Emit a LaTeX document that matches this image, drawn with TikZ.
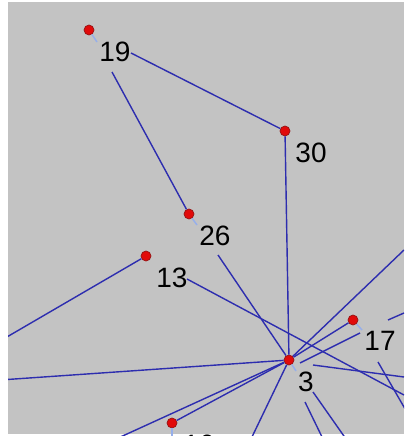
\documentclass[tikz,border=0pt]{standalone}
\usepackage{fontspec}
\setmainfont{Liberation Sans}
\definecolor{bggray}{RGB}{195,195,195}
\definecolor{edgeblue}{RGB}{45,45,175}
\definecolor{tickblue}{RGB}{150,175,235}
\definecolor{dotred}{RGB}{225,10,10}
\definecolor{dotedge}{RGB}{150,20,20}
\begin{document}
\begin{tikzpicture}[x=1pt,y=-1pt,
  vertex/.style={circle,fill=dotred,draw=dotedge,line width=0.7pt,minimum size=10pt,inner sep=0pt},
  lbl/.style={inner sep=0pt,font=\fontsize{28}{28}\selectfont},
  edge/.style={draw=edgeblue,line width=1.4pt},
  leader/.style={draw=tickblue,line width=1.5pt}]
\useasboundingbox (0,0) rectangle (404,436);
\fill[white] (0,0) rectangle (404,436);
\fill[bggray] (8,2) rectangle (404,433.5);
\begin{scope}
\clip (8,0) rectangle (404,436);
% vertices
\node[vertex] (n19) at (89,30) {};
\node[vertex] (n30) at (285,131) {};
\node[vertex] (n26) at (189,214) {};
\node[vertex] (n13) at (146,256) {};
\node[vertex] (n17) at (353,320) {};
\node[vertex] (n3)  at (289,360) {};
\node[vertex] (n16) at (172,423) {};
% labels
\node[lbl] (l19) at (115,52) {19};
\node[lbl] (l30) at (311,153) {30};
\node[lbl] (l26) at (215,236) {26};
\node[lbl] (l13) at (172,278) {13};
\node[lbl] (l17) at (380,341) {17};
\node[lbl] (l3)  at (306,382) {3};
\node[lbl] (l16) at (199,445) {16};
% connector end points
\coordinate (e19a) at (131,53);
\coordinate (e19b) at (112,72);
\coordinate (w13)  at (0,341);
\coordinate (e13)  at (187,279);
\coordinate (x13)  at (404,395);
\coordinate (e26)  at (218,255);
\coordinate (ne3)  at (404,250);
\coordinate (e17a) at (360,333);
\coordinate (e3a)  at (300,363);
\coordinate (e3b)  at (313,365);
\coordinate (x3)   at (404,377);
\coordinate (e17b) at (378,362);
\coordinate (s17)  at (408,414);
\coordinate (e17c) at (388,320);
\coordinate (x17)  at (404,313);
\coordinate (w3)   at (0,380);
\coordinate (sw3)  at (116,439);
\coordinate (s3)   at (251,439);
\coordinate (e3c)  at (313,392);
\coordinate (s3c)  at (346,439);
\coordinate (e3d)  at (305,402);
\coordinate (s3d)  at (323,439);
% edges
\path[edge] (e19a) -- (n30);
\path[edge] (e19b) -- (n26);
\path[edge] (n30) -- (n3);
\path[edge] (n13) -- (w13);
\path[edge] (e13) -- (x13);
\path[edge] (e26) -- (n3);
\path[edge] (ne3) -- (n3);
\path[edge] (n17) -- (n3);
\path[edge] (e17a) -- (e3a);
\path[edge] (e3b) -- (x3);
\path[edge] (e17b) -- (s17);
\path[edge] (e17c) -- (x17);
\path[edge] (w3) -- (n3);
\path[edge] (sw3) -- (n3);
\path[edge] (n16) -- (n3);
\path[edge] (n3) -- (s3);
\path[edge] (e3c) -- (s3c);
\path[edge] (e3d) -- (s3d);
% leaders
\path[leader] (n19) -- (97,42);
\path[leader] (n26) -- (197,225);
\path[leader] (n17) -- (362,330);
\path[leader] (n3) -- (296,371);
\path[leader] (n16) -- (172,436);
\end{scope}
\end{tikzpicture}
\end{document}
